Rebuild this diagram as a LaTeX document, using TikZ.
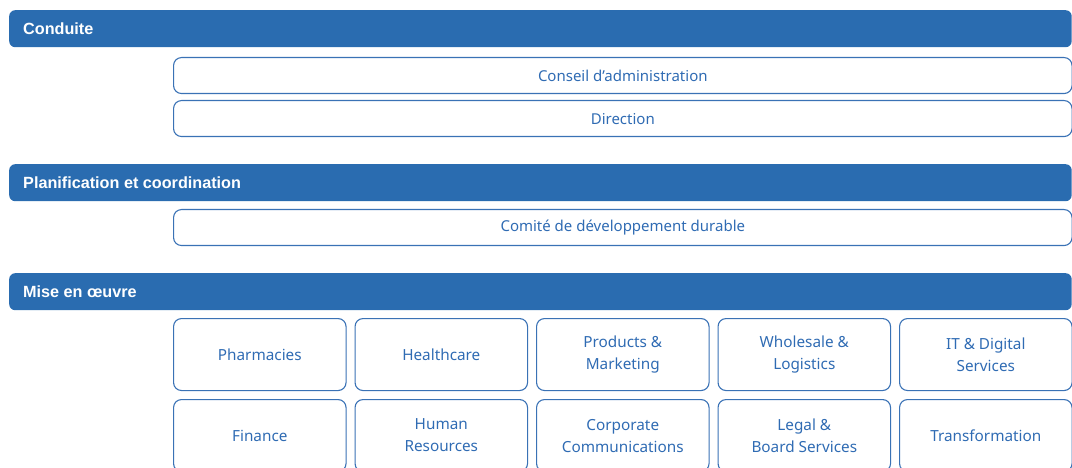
\documentclass[tikz,border=0pt]{standalone}
\usepackage{fontspec}
\setmainfont{Noto Sans}
\newfontfamily\hfont{Liberation Sans}
\definecolor{hdr}{HTML}{2A6CB0}
\definecolor{txt}{HTML}{2F6BB3}
\definecolor{edge}{HTML}{3A72B5}
\begin{document}
\begin{tikzpicture}[x=1pt,y=-1pt,
  header/.style={fill=hdr,draw=none,rounded corners=6pt,minimum width=1062.5pt,minimum height=37pt,inner sep=0pt,anchor=north west},
  htext/.style={text=white,font=\hfont\fontsize{16.2}{17}\selectfont\bfseries,anchor=west,inner sep=0pt},
  wide/.style={draw=edge,line width=1.1pt,rounded corners=8pt,minimum width=898.5pt,minimum height=36pt,inner sep=0pt,anchor=north west,text=txt,font=\fontsize{15}{16}\selectfont},
  cell/.style={draw=edge,line width=1.1pt,rounded corners=8pt,minimum width=172.5pt,minimum height=72pt,inner sep=0pt,anchor=north west,text=txt,align=center,font=\fontsize{15.3}{22}\selectfont}]
\useasboundingbox (0,0) rectangle (1072,468);
\clip (0,0) rectangle (1072,468);
% headers
\node[header] (h1) at (9,10) {};
\node[htext] (t1) at (23,28.5) {Conduite};
\node[header] (h2) at (9,164) {};
\node[htext] (t2) at (23,182.5) {Planification et coordination};
\node[header] (h3) at (9,273) {};
\node[htext] (t3) at (23,291.5) {Mise en \oe uvre};
% wide boxes
\node[wide] (ca) at (173,57) {Conseil d’administration};
\node[wide] (dir) at (173,100) {Direction};
\node[wide] (cdd) at (173,209) {Comité de développement durable};
% grid
\node[cell] (c11) at (173,318) {Pharmacies};
\node[cell] (c12) at (354.5,318) {Healthcare};
\node[cell] (c13) at (536,318) {Products \&\\Marketing};
\node[cell] (c14) at (717.5,318) {Wholesale \&\\Logistics};
\node[cell] (c15) at (899,318) {IT \& Digital\\Services};
\node[cell] (c21) at (173,399) {Finance};
\node[cell] (c22) at (354.5,399) {Human\\Resources};
\node[cell] (c23) at (536,399) {Corporate\\Communications};
\node[cell] (c24) at (717.5,399) {Legal \&\\Board Services};
\node[cell] (c25) at (899,399) {Transformation};
\end{tikzpicture}
\end{document}
